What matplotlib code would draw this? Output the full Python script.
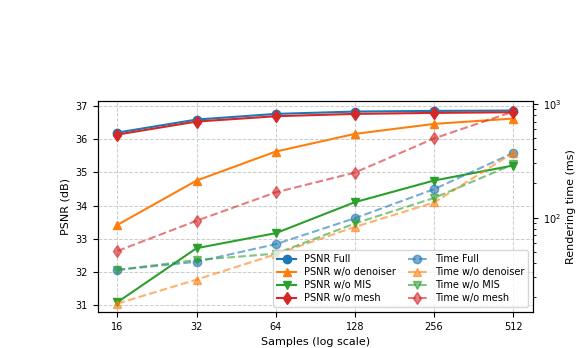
import matplotlib
matplotlib.use("Agg")
import matplotlib.pyplot as plt

# samples per pixel
samples = [16, 32, 64, 128, 256, 512]

# PSNR (dB)
psnr_full = [36.19, 36.58, 36.75, 36.82, 36.84, 36.85]
psnr_no_denoiser = [33.42, 34.75, 35.62, 36.15, 36.45, 36.61]
psnr_no_mis = [31.10, 32.72, 33.17, 34.10, 34.75, 35.20]
psnr_no_mesh = [36.13, 36.52, 36.68, 36.75, 36.78, 36.80]

# Rendering time (ms)
time_full = [34.8, 41.0, 58.5, 99.0, 178, 370]
time_no_denoiser = [17.6, 28.6, 47.7, 83.0, 136, 371]
time_no_mis = [34.8, 42.5, 48.3, 89.0, 149, 294]
time_no_mesh = [51.0, 94.0, 167, 249, 497, 855]

colors = ["#1f77b4", "#ff7f0e", "#2ca02c", "#d62728"]
markers = ["o", "^", "v", "d"]
names = ["Full", "w/o denoiser", "w/o MIS", "w/o mesh"]
psnr_all = [psnr_full, psnr_no_denoiser, psnr_no_mis, psnr_no_mesh]
time_all = [time_full, time_no_denoiser, time_no_mis, time_no_mesh]

fig = plt.figure(figsize=(5.78, 3.48), dpi=100)
ax1 = fig.add_axes([0.169, 0.104, 0.753, 0.607])
ax2 = ax1.twinx()

handles = []
for vals, c, m, n in zip(psnr_all, colors, markers, names):
    h, = ax1.plot(samples, vals, color=c, marker=m, markersize=6,
                  linewidth=1.5, label=f"PSNR {n}")
    handles.append(h)
for vals, c, m, n in zip(time_all, colors, markers, names):
    h, = ax2.plot(samples, vals, color=c, marker=m, markersize=6,
                  linewidth=1.5, linestyle="--", alpha=0.6,
                  label=f"Time {n}")
    handles.append(h)

ax1.set_xscale("log", base=2)
ax1.set_xticks(samples)
ax1.set_xticklabels([str(s) for s in samples])
ax1.minorticks_off()
ax1.set_ylim(30.81, 37.15)
ax1.set_yticks([31, 32, 33, 34, 35, 36, 37])
ax2.set_yscale("log")
ax2.set_ylim(14.9, 1069)

ax1.set_xlabel("Samples (log scale)", fontsize=8)
ax1.set_ylabel("PSNR (dB)", fontsize=8)
ax2.set_ylabel("Rendering time (ms)", fontsize=8)
ax1.tick_params(labelsize=7)
ax2.tick_params(labelsize=7)
ax1.grid(True, linestyle="--", color="#cccccc", linewidth=0.7)

ax2.legend(handles=handles, loc="lower right", ncol=2, fontsize=7,
           handlelength=2, columnspacing=1.2, borderpad=0.4,
           labelspacing=0.3)

fig.savefig("out.png", dpi=100)
